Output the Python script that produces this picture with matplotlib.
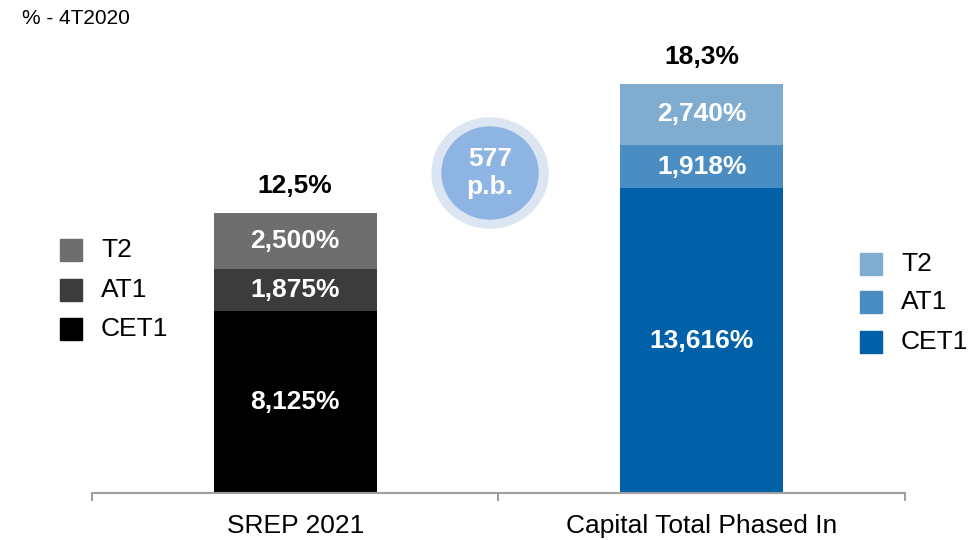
import matplotlib.pyplot as plt
from matplotlib.patches import Ellipse

plt.rcParams['font.family'] = ['Liberation Sans', 'DejaVu Sans']

# capital stack, percent of RWA
categories = ['SREP 2021', 'Capital Total Phased In']
layers = ['CET1', 'AT1', 'T2']
srep = [8.125, 1.875, 2.500]
phased_in = [13.616, 1.918, 2.740]
totals = ['12,5%', '18,3%']
gap_label = '577\np.b.'

grey_cols = ['#000000', '#3c3c3c', '#6e6e6e']
blue_cols = ['#0060a8', '#4a8dc3', '#80adcf']

fig = plt.figure(figsize=(9.78, 5.4), dpi=100)
ax = fig.add_axes([92/978, 47/540, 813/978, 473/540])

x_pos = [0.5, 1.5]
for xi, vals, cols in [(x_pos[0], srep, grey_cols), (x_pos[1], phased_in, blue_cols)]:
    bottom = 0
    for v, c in zip(vals, cols):
        ax.bar(xi, v, width=0.4, bottom=bottom, color=c, linewidth=0)
        ax.text(xi, bottom + v/2, f'{v:.3f}%'.replace('.', ','), ha='center', va='center',
                color='white', fontsize=19, fontweight='bold')
        bottom += v
    ax.text(xi, bottom + 1.2, totals[x_pos.index(xi)], ha='center', va='center',
            fontsize=19, fontweight='bold', color='black')

ax.set_xlim(0, 2)
ax.set_ylim(0, 473/22.4)
ax.set_yticks([])
for s in ['top', 'right', 'left']:
    ax.spines[s].set_visible(False)
ax.spines['bottom'].set_color('#a0a0a0')
ax.spines['bottom'].set_linewidth(1.5)
ax.set_xticks([0, 1, 2])
ax.set_xticklabels([])
ax.tick_params(axis='x', which='major', direction='out', length=6, width=1.5, color='#a0a0a0')
ax.set_xticks(x_pos, minor=True)
ax.set_xticklabels(categories, minor=True, fontsize=19)
ax.tick_params(axis='x', which='minor', length=0, pad=15)

# legends drawn by hand in figure pixels
def legend(x, ys, cols):
    for y, c, name in zip(ys, cols, layers):
        fig.patches.append(plt.Rectangle(((x)/978, 1 - (y + 11)/540), 22/978, 22/540,
                                         transform=fig.transFigure, color=c))
        fig.text((x + 41)/978, 1 - y/540, name, fontsize=19, va='center', ha='left')

legend(60, [329, 290, 250], grey_cols)
legend(860, [342, 302, 264], blue_cols)

# basis point gap bubble
cx, cy = 490/978, 1 - 173/540
fig.patches.append(Ellipse((cx, cy), 116/978, 110/540, transform=fig.transFigure,
                           color='#dce6f2'))
fig.patches.append(Ellipse((cx, cy), 96/978, 92/540, transform=fig.transFigure,
                           color='#8db4e2'))
fig.text(cx, cy, gap_label, ha='center', va='center', color='white',
         fontsize=19, fontweight='bold', linespacing=1.2)

fig.text(22/978, 1 - 18/540, '% - 4T2020', fontsize=15, va='center', ha='left')

fig.savefig('out.png', dpi=100)
